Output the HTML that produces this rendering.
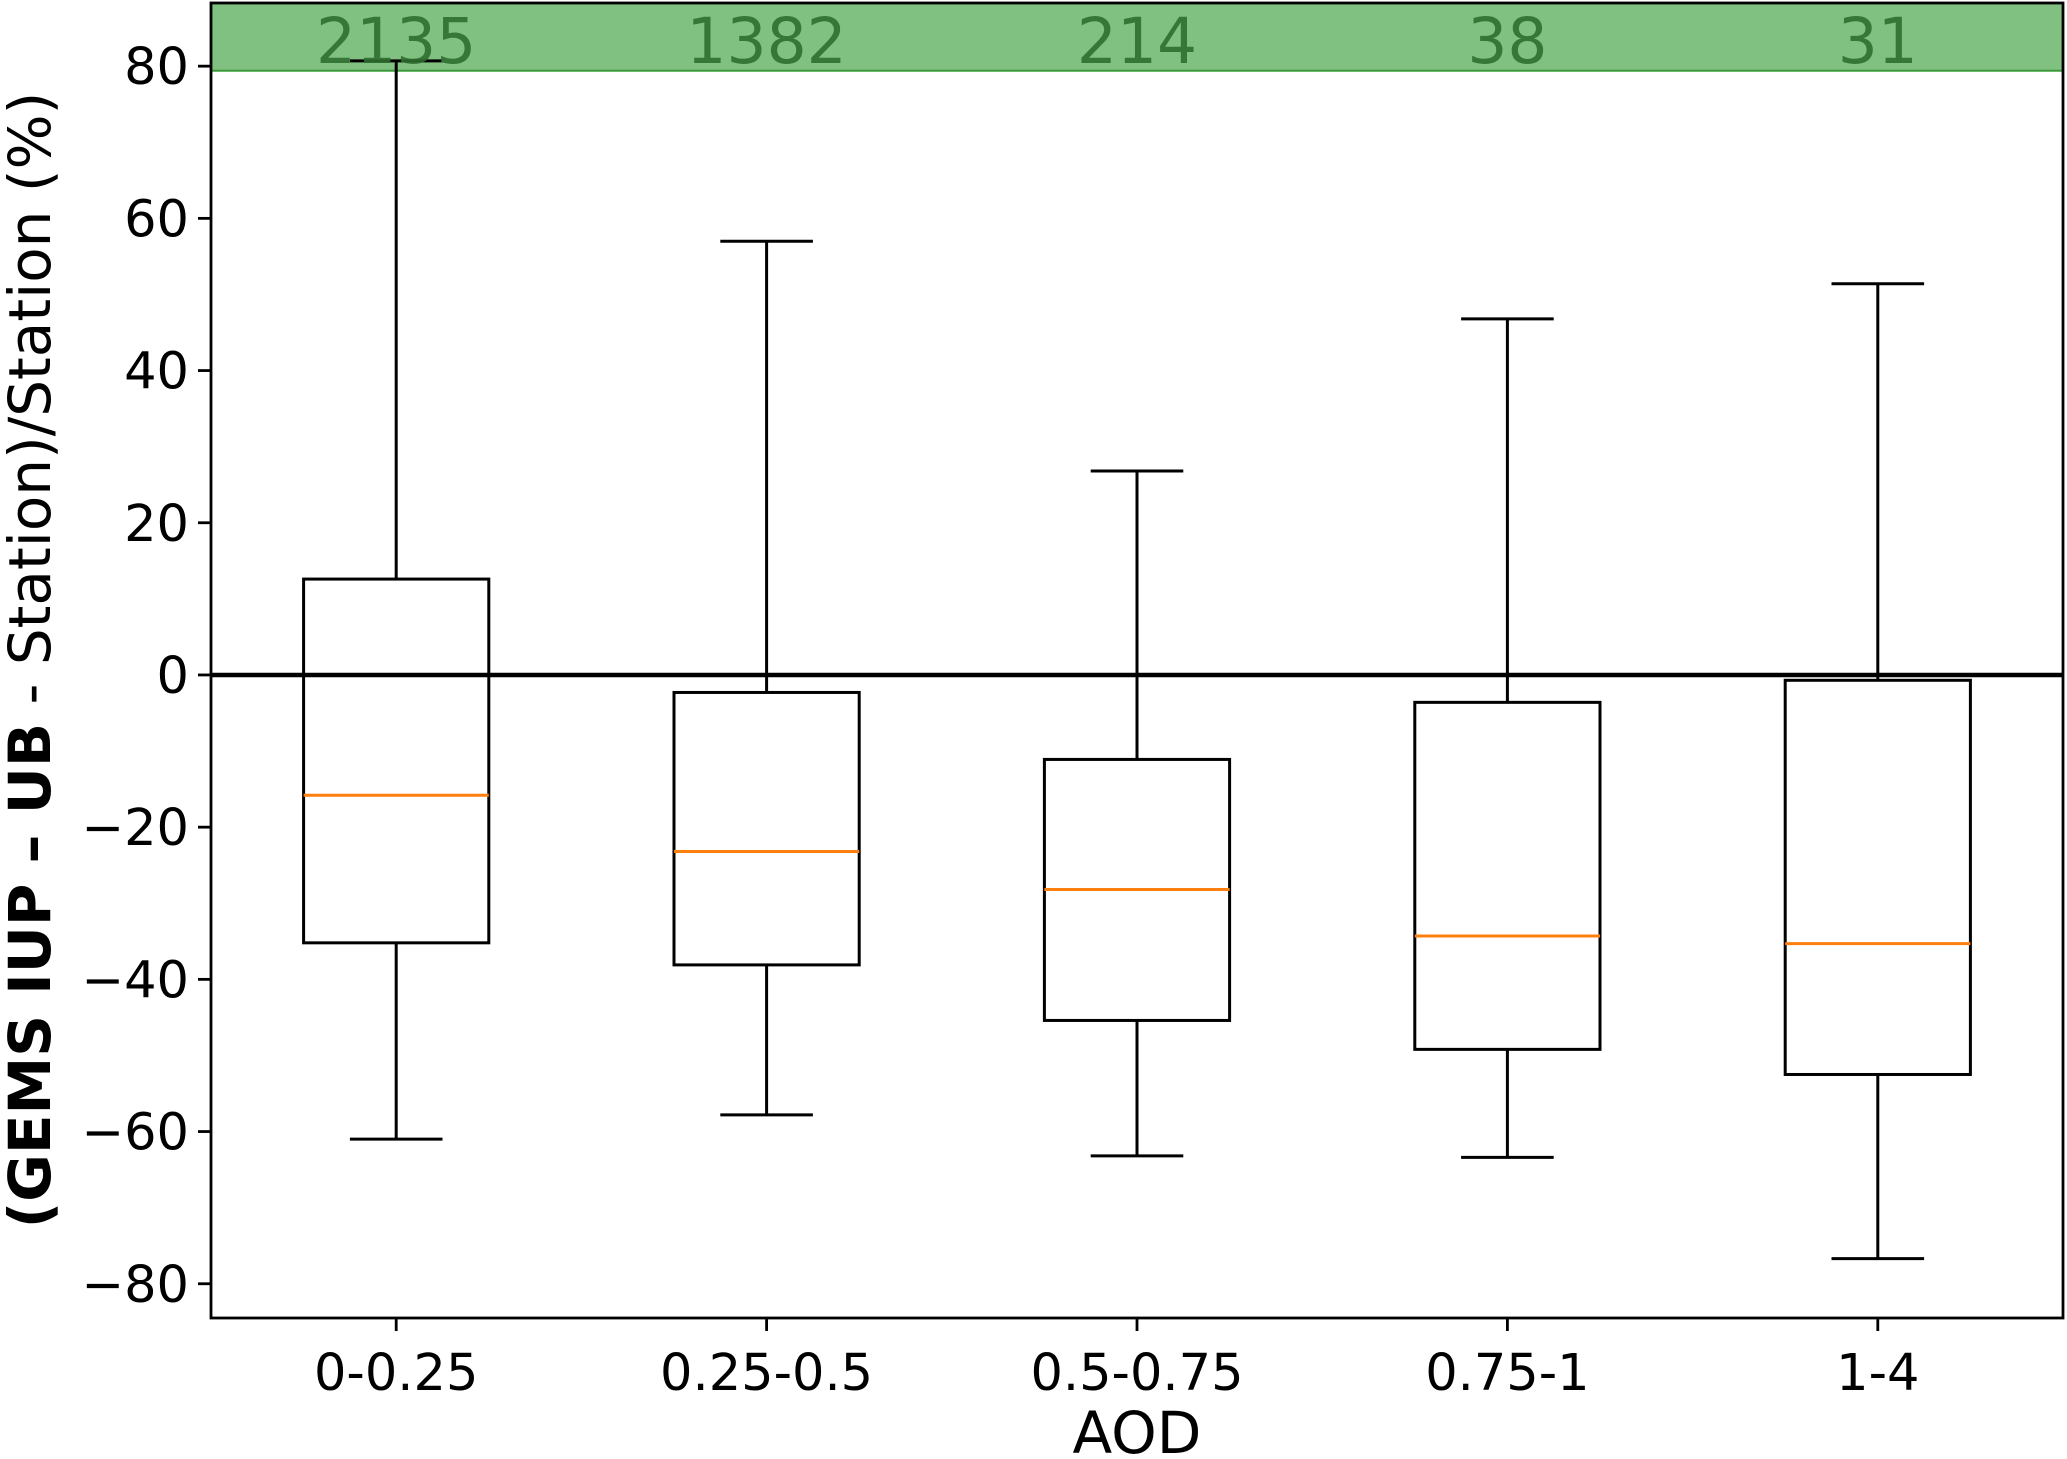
<!DOCTYPE html>
<html><head><meta charset="utf-8"><style>
html,body{margin:0;padding:0;background:#fff;}
svg{display:block;font-family:"DejaVu Sans","Liberation Sans",sans-serif;}
</style></head><body>
<svg id="chart" width="2067" height="1459" viewBox="0 0 2067 1459" xmlns="http://www.w3.org/2000/svg">
<g id="plot"></g>
</svg>
<script>
const categories = ["0-0.25","0.25-0.5","0.5-0.75","0.75-1","1-4"];
const counts = ["2135","1382","214","38","31"];
const whiskerHigh = [80.7, 57.0, 26.8, 46.8, 51.4];
const q3Values = [12.6, -2.3, -11.1, -3.6, -0.7];
const medians = [-15.8, -23.2, -28.2, -34.3, -35.3];
const q1Values = [-35.2, -38.1, -45.4, -49.2, -52.5];
const whiskerLow = [-61.0, -57.8, -63.2, -63.4, -76.7];
const yTicks = [-80, -60, -40, -20, 0, 20, 40, 60, 80];
const bandMin = 79.4;

const L = 211, R = 2063, T = 3, B = 1318;
const yMin = -84.5, yMax = 88.3;
function y(v){ return T + (yMax - v) / (yMax - yMin) * (B - T); }
function x(i){ return L + (i + 0.5) / categories.length * (R - L); }
const unit = (R - L) / categories.length;
const NS = "http://www.w3.org/2000/svg";
const g = document.getElementById('plot');
function el(tag, attrs, parent){ const e = document.createElementNS(NS, tag); for (const k in attrs) e.setAttribute(k, attrs[k]); (parent||g).appendChild(e); return e; }

const band = el('rect', {x:L, y:T, width:R-L, height:y(bandMin)-T, fill:'#80c080', stroke:'#3a9a3a', 'stroke-width':2});



const zl = el('line', {x1:L, x2:R, y1:y(0), y2:y(0), stroke:'#000', 'stroke-width':4.5});



categories.forEach((c, i) => {
  const cx = x(i), hw = unit * 0.25, cw = unit * 0.125;
  const grp = el('g', {});
  
  
  const sw = 3;
  el('line', {x1:cx, x2:cx, y1:y(whiskerHigh[i]), y2:y(q3Values[i]), stroke:'#000', 'stroke-width':sw}, grp);
  el('line', {x1:cx, x2:cx, y1:y(q1Values[i]), y2:y(whiskerLow[i]), stroke:'#000', 'stroke-width':sw}, grp);
  el('line', {x1:cx-cw, x2:cx+cw, y1:y(whiskerHigh[i]), y2:y(whiskerHigh[i]), stroke:'#000', 'stroke-width':sw}, grp);
  el('line', {x1:cx-cw, x2:cx+cw, y1:y(whiskerLow[i]), y2:y(whiskerLow[i]), stroke:'#000', 'stroke-width':sw}, grp);
  el('rect', {x:cx-hw, y:y(q3Values[i]), width:2*hw, height:y(q1Values[i])-y(q3Values[i]), fill:'none', stroke:'#000', 'stroke-width':sw}, grp);
  el('line', {x1:cx-hw, x2:cx+hw, y1:y(medians[i]), y2:y(medians[i]), stroke:'#ff7f0e', 'stroke-width':sw}, grp);
  const t = el('text', {x:cx, y:63, 'text-anchor':'middle', 'font-size':63, fill:'#2e6e2e', 'fill-opacity':0.9});
  t.textContent = counts[i];
  
  
  el('line', {x1:cx, x2:cx, y1:B, y2:B+13, stroke:'#000', 'stroke-width':2.8});
  const xt = el('text', {x:cx, y:1390, 'text-anchor':'middle', 'font-size':51});
  xt.textContent = c;
  
  
});

yTicks.forEach(v => {
  el('line', {x1:L-13, x2:L, y1:y(v), y2:y(v), stroke:'#000', 'stroke-width':2.8});
  const t = el('text', {x:L-22, y:y(v)+18, 'text-anchor':'end', 'font-size':51});
  t.textContent = v < 0 ? '\u2212' + Math.abs(v) : String(v);
  
  
});

const fr = el('rect', {x:L, y:T, width:R-L, height:B-T, fill:'none', stroke:'#000', 'stroke-width':2.8});



const xl = el('text', {x:(L+R)/2, y:1453, 'text-anchor':'middle', 'font-size':58});
xl.textContent = 'AOD';



const yl = el('text', {transform:'translate(50,660) rotate(-90)', 'text-anchor':'middle', 'font-size':58});


const s1 = el('tspan', {'font-weight':'bold'}, yl); s1.textContent = '(GEMS IUP \u2013 UB';
const s2 = el('tspan', {}, yl); s2.textContent = ' - Station)/Station (%)';
</script>
</body></html>
